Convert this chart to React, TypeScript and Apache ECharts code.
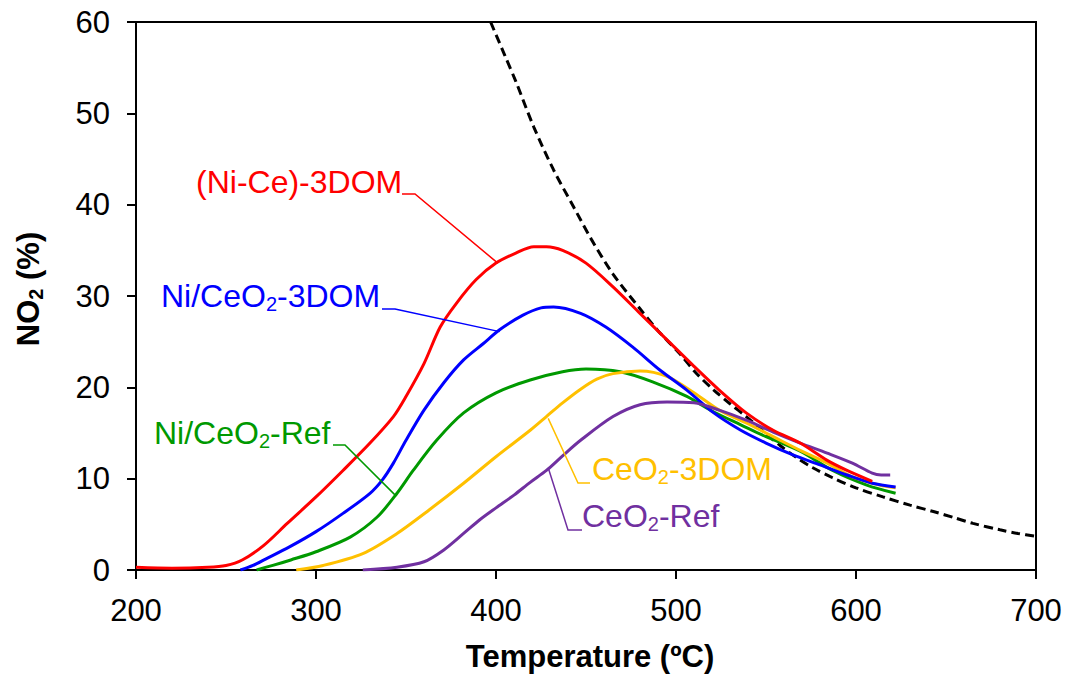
import React, { useEffect, useRef } from "react";
import * as echarts from "echarts";

const FONT = "Liberation Sans, Arial, sans-serif";

const xTicks = { min: 200, max: 700, interval: 100 };
const yTicks = { min: 0, max: 60, interval: 10 };

const niCe3DOM: number[][] = [
  [200, 0.3], [220, 0.2], [240, 0.3], [250, 0.5], [259, 1.1], [271, 2.7], [284, 5.1],
  [300, 8.0], [315, 10.9], [330, 13.9], [343, 16.8], [350, 19.0], [360, 22.6], [369, 26.6],
  [378, 29.2], [389, 31.8], [400, 33.6], [411, 34.7], [421, 35.4], [428, 35.4], [437, 35.0],
  [450, 33.6], [465, 31.0], [480, 28.1], [495, 25.2], [510, 22.3], [524, 19.7], [539, 17.2],
  [554, 15.3], [569, 13.9], [584, 12.0], [595, 10.9], [609, 9.7],
];
const niCeO2_3DOM: number[][] = [
  [258, 0], [265, 0.5], [272, 1.2], [285, 2.5], [300, 4.2], [315, 6.2], [330, 8.4],
  [337, 9.9], [343, 11.7], [350, 14.2], [360, 17.5], [371, 20.5], [382, 23.0], [393, 24.8],
  [402, 26.3], [415, 27.9], [425, 28.7], [432, 28.8], [447, 28.1], [461, 26.6], [476, 24.4],
  [491, 21.9], [506, 19.7], [521, 17.2], [536, 15.3], [550, 13.9], [565, 12.6], [580, 11.5],
  [595, 10.4], [609, 9.5], [622, 9.1],
];
const niCeO2Ref: number[][] = [
  [267, 0], [276, 0.5], [286, 1.1], [300, 2.0], [319, 3.6], [334, 5.8], [345, 8.4],
  [354, 10.9], [367, 14.2], [382, 17.2], [400, 19.4], [419, 20.8], [437, 21.7], [450, 22.0],
  [469, 21.7], [487, 20.6], [506, 19.0], [521, 17.3], [536, 15.9], [550, 14.6], [569, 13.0],
  [587, 10.9], [606, 9.3], [622, 8.4],
];
const ceO2_3DOM: number[][] = [
  [289, 0], [304, 0.5], [326, 1.8], [345, 4.0], [363, 6.6], [382, 9.5], [400, 12.4],
  [419, 15.3], [428, 16.8], [437, 18.3], [447, 19.8], [456, 20.9], [465, 21.5], [480, 21.8],
  [495, 21.2], [510, 19.4], [524, 17.5], [539, 16.1], [554, 14.6], [569, 13.1], [584, 11.7],
  [598, 10.2], [613, 9.3], [622, 9.0],
];
const ceO2Ref: number[][] = [
  [326, 0], [345, 0.3], [360, 0.9], [371, 2.2], [382, 4.0], [391, 5.5], [400, 6.8],
  [410, 8.2], [419, 9.6], [428, 10.9], [437, 12.5], [447, 14.2], [465, 16.8], [480, 18.1],
  [495, 18.4], [510, 18.3], [524, 17.5], [539, 16.4], [554, 15.1], [569, 13.9], [584, 12.8],
  [598, 11.7], [609, 10.6], [614, 10.4], [619, 10.4],
];
const equilibrium: number[][] = [
  [397, 60], [405, 56.3], [411, 53.5], [421, 48.5], [432, 43.8], [443, 39.8], [453, 36.2],
  [465, 32.4], [480, 28.6], [490, 26.2], [502, 23.7], [511, 21.6], [521, 19.7], [530, 18.2],
  [539, 16.8], [549, 15.1], [558, 13.6], [567, 12.3], [576, 11.2], [587, 10.1], [600, 9.0],
  [615, 8.0], [630, 7.1], [643, 6.4], [655, 5.7], [665, 5.1], [680, 4.4], [690, 4.0], [700, 3.7],
];

const RED = "#FF0000";
const BLUE = "#0000FF";
const GREEN = "#009900";
const YELLOW = "#FFC000";
const PURPLE = "#7030A0";

export default function App() {
  const ref = useRef<HTMLDivElement>(null);
  useEffect(() => {
    if (!ref.current) return;
    const chart = echarts.init(ref.current, undefined, { renderer: "svg" });
    const line = (name: string, data: number[][], color: string, dashed = false) => ({
      name,
      type: "line",
      data,
      showSymbol: false,
      smooth: 0.3,
      lineStyle: { color, width: 3, type: dashed ? [9, 5] : "solid" },
      itemStyle: { color },
      z: dashed ? 1 : 2,
    });
    const axisCommon = {
      axisLine: { show: true, onZero: false, lineStyle: { color: "#000", width: 2 } },
      axisTick: { show: true, length: 9, lineStyle: { color: "#000", width: 2 } },
      splitLine: { show: false },
    };
    chart.setOption({
      animation: false,
      backgroundColor: "#fff",
      grid: {
        left: 136, right: 30, top: 22, bottom: 105,
        show: true, borderColor: "#000", borderWidth: 2, backgroundColor: "transparent",
      },
      xAxis: {
        type: "value", ...xTicks, ...axisCommon,
        axisLabel: { color: "#000", fontSize: 31, fontFamily: FONT, margin: 25 },
      },
      yAxis: {
        type: "value", ...yTicks, ...axisCommon,
        axisLabel: { color: "#000", fontSize: 31, fontFamily: FONT, margin: 26 },
      },
      series: [
        line("Equilibrium", equilibrium, "#000", true),
        line("Ni/CeO2-Ref", niCeO2Ref, GREEN),
        line("CeO2-3DOM", ceO2_3DOM, YELLOW),
        line("Ni/CeO2-3DOM", niCeO2_3DOM, BLUE),
        line("CeO2-Ref", ceO2Ref, PURPLE),
        line("(Ni-Ce)-3DOM", niCe3DOM, RED),
      ],
    });

    const px = (p: number[]) => chart.convertToPixel({ gridIndex: 0 }, p) as number[];
    const rich = (color: string, bold = false, size = 32) => ({
      n: { fontSize: size, fontFamily: FONT, fill: color, lineHeight: 36, fontWeight: bold ? "bold" : "normal" },
      s: { fontSize: 20, fontFamily: FONT, fill: color, lineHeight: 20, verticalAlign: "bottom", fontWeight: bold ? "bold" : "normal" },
    });
    const label = (text: string, x: number, y: number, color: string) => ({
      type: "text", x, y, z: 10,
      style: { text, rich: rich(color), fill: color, align: "left", verticalAlign: "middle", font: `32px ${FONT}` },
    });
    const leader = (pts: number[][], color: string) => ({
      type: "polyline", z: 9,
      shape: { points: pts },
      style: { stroke: color, lineWidth: 1.5, fill: "none" },
    });

    chart.setOption({
      graphic: [
        label("{n|(Ni-Ce)-3DOM}", 196, 182, RED),
        leader([[402, 194], [415, 194], px([401, 33.6])], RED),
        label("{n|Ni/CeO}{s|2}{n|-3DOM}", 161, 296, BLUE),
        leader([[382, 309], [395, 309], px([402, 26.1])], BLUE),
        label("{n|Ni/CeO}{s|2}{n|-Ref}", 154, 433, GREEN),
        leader([[333, 445], [345, 445], px([344, 8.2])], GREEN),
        label("{n|CeO}{s|2}{n|-3DOM}", 592, 469, YELLOW),
        leader([px([429, 16.6]), [578, 483], [590, 483]], YELLOW),
        label("{n|CeO}{s|2}{n|-Ref}", 582, 516, PURPLE),
        leader([px([429, 11.2]), [568, 530], [582, 530]], PURPLE),
        {
          type: "text", x: 590, y: 656, z: 10,
          style: { text: "Temperature (ºC)", fill: "#000", font: `bold 31px ${FONT}`, align: "center", verticalAlign: "middle" },
        },
        {
          type: "text", x: 28, y: 289, rotation: Math.PI / 2, z: 10,
          style: {
            text: "{n|NO}{s|2}{n| (%)}", rich: rich("#000", true, 31), fill: "#000",
            font: `bold 31px ${FONT}`, align: "center", verticalAlign: "middle",
          },
        },
      ],
    });
    return () => chart.dispose();
  }, []);
  return (
    <div
      ref={ref}
      style={{ position: "fixed", left: 0, top: 0, width: 1066, height: 675, background: "#fff" }}
    />
  );
}
